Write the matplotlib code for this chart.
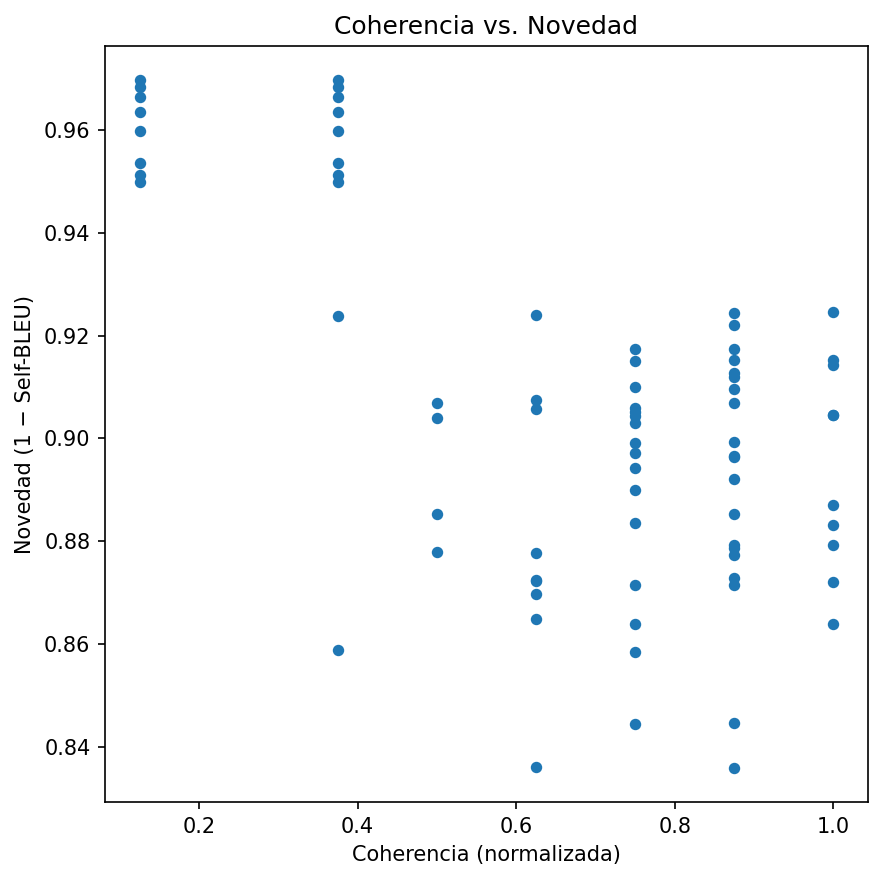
import matplotlib
matplotlib.use("Agg")
import matplotlib.pyplot as plt

# coherencia normalizada (columnas) y novedad por punto
coh_0125 = [0.9696, 0.9684, 0.9663, 0.9635, 0.9597, 0.9536, 0.9513, 0.9498]
coh_0375 = [0.9696, 0.9684, 0.9663, 0.9635, 0.9597, 0.9536, 0.9513, 0.9498,
            0.9237, 0.8588]
coh_0500 = [0.9068, 0.9039, 0.8853, 0.8779]
coh_0625 = [0.9239, 0.9075, 0.9057, 0.8777, 0.8722, 0.8725, 0.8698, 0.8649,
            0.8362]
coh_0750 = [0.9173, 0.9150, 0.9100, 0.9059, 0.9051, 0.9043, 0.9029, 0.8991,
            0.8971, 0.8942, 0.8900, 0.8835, 0.8715, 0.8639, 0.8585, 0.8445]
coh_0875 = [0.9243, 0.9220, 0.9173, 0.9153, 0.9127, 0.9119, 0.9097, 0.9068,
            0.8993, 0.8965, 0.8963, 0.8921, 0.8853, 0.8793, 0.8786, 0.8773,
            0.8728, 0.8716, 0.8447, 0.8360]
coh_1000 = [0.9245, 0.9152, 0.9142, 0.9045, 0.9046, 0.8870, 0.8831, 0.8792,
            0.8721, 0.8639]

columns = {0.125: coh_0125, 0.375: coh_0375, 0.5: coh_0500, 0.625: coh_0625,
           0.75: coh_0750, 0.875: coh_0875, 1.0: coh_1000}

x = []
y = []
for c, vals in columns.items():
    x += [c] * len(vals)
    y += vals

fig = plt.figure(figsize=(884 / 150, 881 / 150), dpi=150)
ax = fig.add_axes([105 / 884, 1 - 802 / 881, 763 / 884, 756 / 881])
ax.scatter(x, y, s=20, color="#1f77b4")
ax.set_title("Coherencia vs. Novedad")
ax.set_xlabel("Coherencia (normalizada)")
ax.set_ylabel("Novedad (1 \u2212 Self-BLEU)")
fig.savefig("out.png", dpi=150)
